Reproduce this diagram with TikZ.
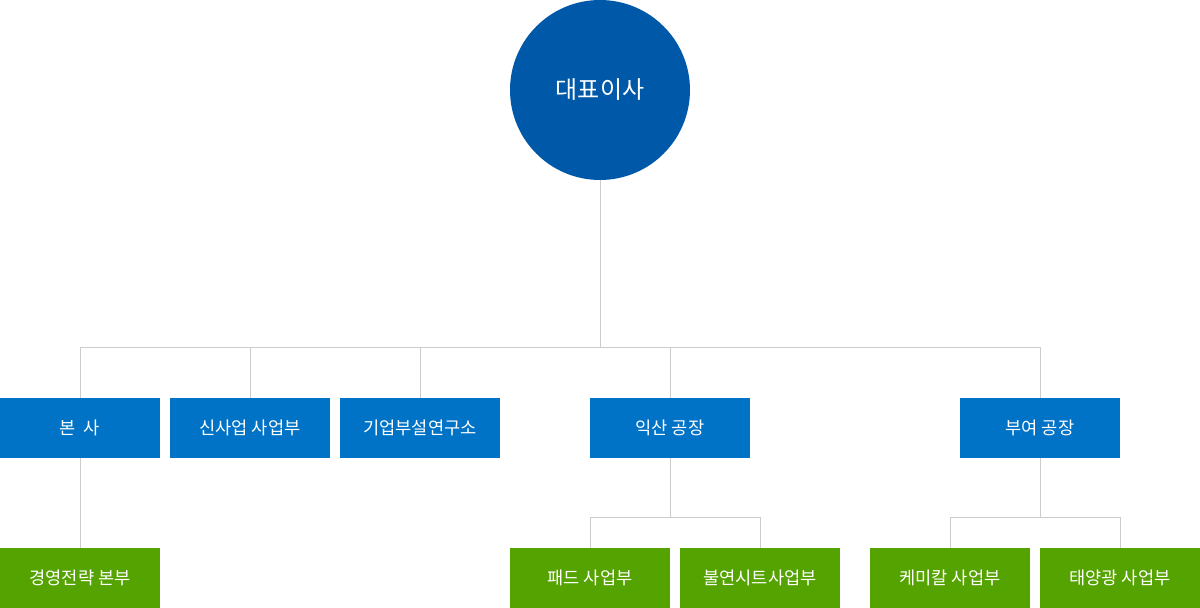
\documentclass[tikz,border=0pt]{standalone}
\usepackage{fontspec}
\setmainfont{Noto Sans CJK KR}
\definecolor{ceo}{HTML}{0058A9}
\definecolor{dept}{HTML}{0073C6}
\definecolor{team}{HTML}{55A300}
\definecolor{ln}{HTML}{CCCCCC}
\begin{document}
\begin{tikzpicture}[x=1pt,y=-1pt,
  conn/.style={draw=ln,line width=1pt},
  deptbox/.style={fill=dept,text=white,minimum width=160pt,minimum height=60pt,inner sep=0pt,font=\fontsize{17.6}{20}\selectfont},
  teambox/.style={fill=team,text=white,minimum width=160pt,minimum height=60pt,inner sep=0pt,font=\fontsize{17.6}{20}\selectfont},
  ceobox/.style={circle,fill=ceo,text=white,minimum size=180pt,inner sep=0pt,font=\fontsize{24}{28}\selectfont}]
\useasboundingbox (0,0) rectangle (1200,608);
\node[ceobox] (ceo) at (600,90) {\raisebox{-2pt}{대표이사}};
\node[deptbox] (d1) at (80,428) {본\ \ 사};
\node[deptbox] (d2) at (250,428) {신사업 사업부};
\node[deptbox] (d3) at (420,428) {기업부설연구소};
\node[deptbox] (d4) at (670,428) {익산 공장};
\node[deptbox] (d5) at (1040,428) {부여 공장};
\node[teambox] (t1) at (80,578) {경영전략 본부};
\node[teambox] (t2) at (590,578) {패드 사업부};
\node[teambox] (t3) at (760,578) {불연시트사업부};
\node[teambox] (t4) at (950,578) {케미칼 사업부};
\node[teambox] (t5) at (1120,578) {태양광 사업부};
\coordinate (hub) at (600,347.5);
\coordinate (hub4) at (670,517.5);
\coordinate (hub5) at (1040,517.5);
\draw[conn] (ceo.south) -- (hub);
\draw[conn] (d1.north) |- (hub) -| (d5.north);
\draw[conn] (d2.north) -- (d2.north |- hub);
\draw[conn] (d3.north) -- (d3.north |- hub);
\draw[conn] (d4.north) -- (d4.north |- hub);
\draw[conn] (d1.south) -- (t1.north);
\draw[conn] (d4.south) -- (hub4);
\draw[conn] (t2.north) |- (hub4) -| (t3.north);
\draw[conn] (d5.south) -- (hub5);
\draw[conn] (t4.north) |- (hub5) -| (t5.north);
\end{tikzpicture}
\end{document}
